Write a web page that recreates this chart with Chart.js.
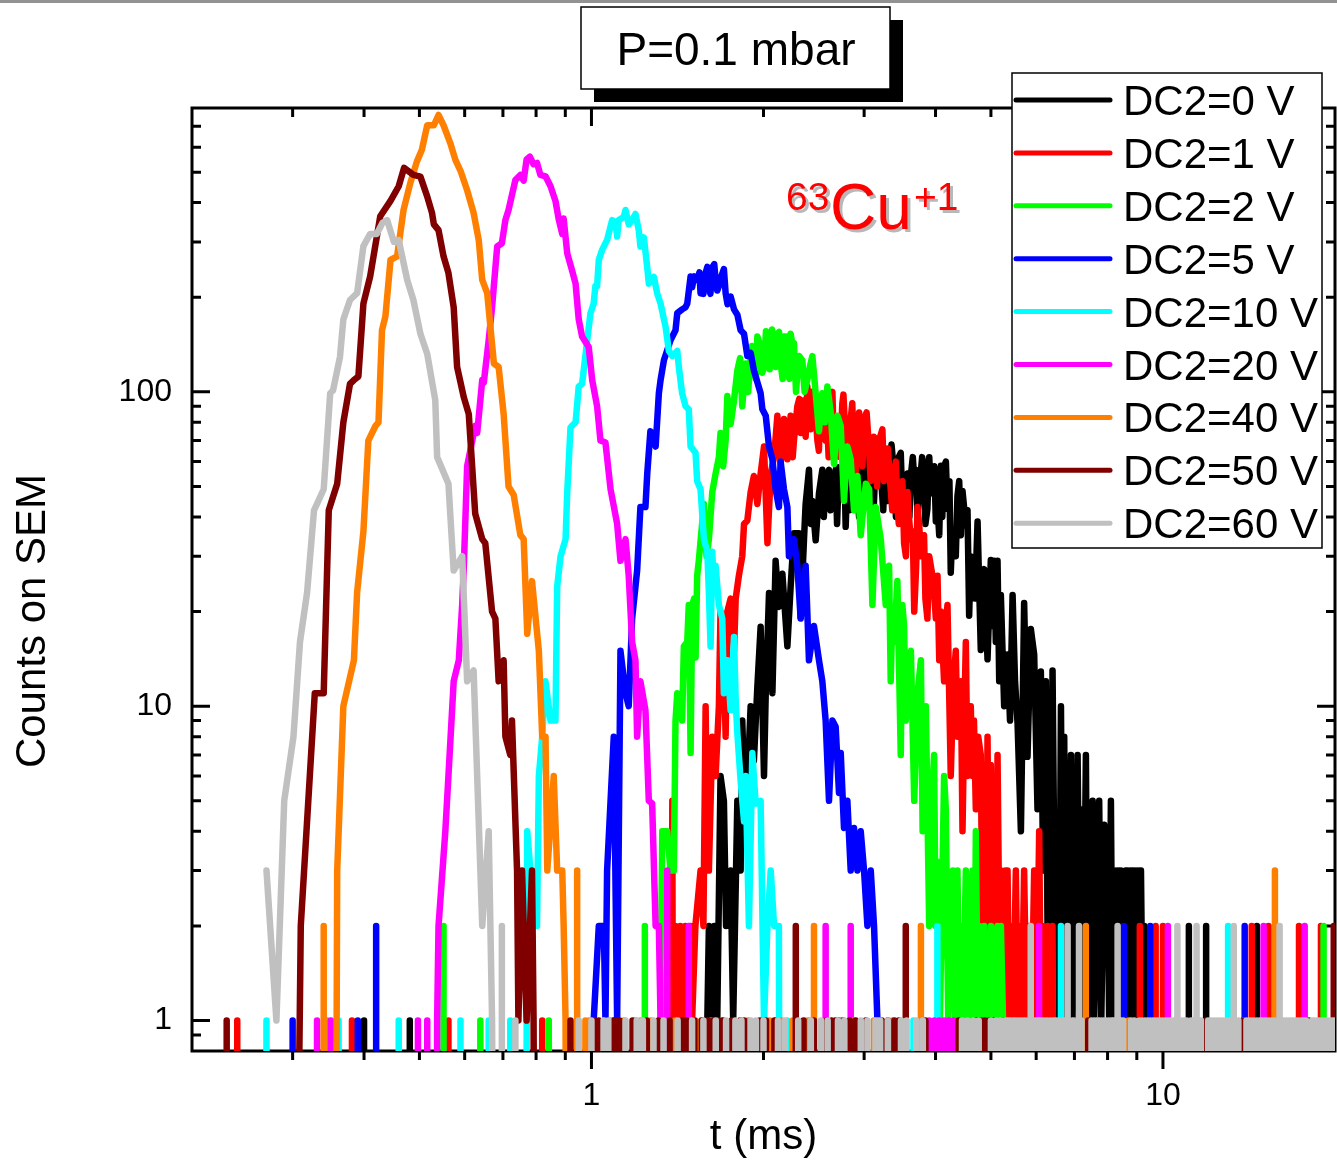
<!DOCTYPE html>
<html lang="en">
<head>
<meta charset="UTF-8">
<title>63Cu+ arrival times</title>
<script src="https://cdn.jsdelivr.net/npm/chart.js@4"></script>
<style>
  body { margin: 0; background: #fff; }
  #wrap { width: 1337px; height: 1163px; }
</style>
</head>
<body>
<div id="wrap"><canvas id="myChart" width="1337" height="1163"></canvas></div>
<script>
// counts vs time (ms); [t, counts]
const dc0 = [[1.59,0],[1.595,1],[1.605,2],[1.62,1],[1.64,2],[1.66,1],[1.682,6],[1.705,5],[1.72,2],[1.752,3],[1.77,1],[1.80,5],[1.824,3],[1.836,9],[1.86,4],[1.899,10],[1.924,6.7],[1.951,11.5],[1.977,17.9],[2.004,6],[2.018,11],[2.045,22.9],[2.073,11],[2.10,29],[2.128,20.7],[2.158,26.4],[2.202,15.5],[2.231,24],[2.261,35.5],[2.307,35.5],[2.323,19.2],[2.354,33.7],[2.37,44],[2.402,56.5],[2.42,38],[2.435,45],[2.468,33.7],[2.501,47.6],[2.535,56.5],[2.55,40],[2.569,51],[2.604,56.5],[2.62,42],[2.64,45],[2.675,56.5],[2.69,38],[2.711,57.6],[2.748,48.8],[2.77,60],[2.785,37.2],[2.804,55],[2.83,42],[2.861,47.6],[2.88,60],[2.90,55],[2.94,40],[2.96,44],[2.979,65.4],[3.02,47.6],[3.04,66],[3.061,57.6],[3.08,42],[3.102,52.5],[3.12,44],[3.144,62],[3.18,66],[3.208,55],[3.24,42],[3.273,65.4],[3.3,45],[3.317,55],[3.35,68],[3.384,55],[3.41,40],[3.43,60.8],[3.477,64],[3.5,44],[3.524,46.6],[3.573,55],[3.6,40],[3.622,54.5],[3.65,62],[3.671,52.5],[3.695,56.5],[3.72,40],[3.745,48.4],[3.79,62],[3.819,57.6],[3.84,38],[3.871,42.4],[3.9,62],[3.924,47.6],[3.951,55],[3.98,58],[4.005,38.7],[4.032,43],[4.06,35],[4.087,58.2],[4.11,40],[4.14,58],[4.17,60],[4.197,42.4],[4.23,52],[4.253,26.6],[4.28,36],[4.311,33],[4.34,30],[4.369,46.6],[4.4,52],[4.43,35],[4.459,48.4],[4.519,37.6],[4.55,42],[4.58,19.4],[4.61,30],[4.643,28.4],[4.69,22],[4.738,38.7],[4.80,15.1],[4.83,25],[4.866,27.3],[4.932,14.1],[4.998,29.2],[5.03,18],[5.065,29],[5.1,16],[5.135,29],[5.17,12],[5.204,22.6],[5.274,10],[5.346,14.6],[5.4,9],[5.456,22.6],[5.51,12],[5.567,8.8],[5.642,4],[5.716,21.3],[5.794,6.9],[5.872,17.6],[5.952,14.6],[6.032,4.7],[6.114,12.9],[6.17,3],[6.239,12],[6.28,2],[6.323,4],[6.36,1],[6.409,13],[6.47,2],[6.541,3],[6.58,1],[6.63,10],[6.67,2],[6.718,8],[6.76,1],[6.81,5.5],[6.85,2],[6.902,7],[6.95,1],[6.995,4.7],[7.04,2],[7.09,7],[7.16,1],[7.236,4.7],[7.28,2],[7.331,7],[7.38,1],[7.43,2],[7.48,3],[7.532,5],[7.58,1],[7.633,2],[7.68,3],[7.734,5],[7.8,1],[7.892,4.2],[7.95,2],[8.0,3],[8.05,1],[8.108,5],[8.16,1],[8.217,3],[8.28,1],[8.33,3],[8.39,2],[8.44,3],[8.5,1],[8.55,2],[8.6,3],[8.671,3],[8.73,1],[8.79,3],[8.85,2],[8.905,3],[8.96,1],[9.03,3],[9.09,2],[9.152,3],[9.21,1],[9.276,2],[9.338,1],[9.36,0]];
const dc1 = [[1.375,0],[1.385,5],[1.395,0],[1.403,2],[1.41,0],[1.43,2],[1.44,0],[1.46,2],[1.47,0],[1.49,2],[1.5,1],[1.52,2],[1.552,3],[1.57,2],[1.584,10],[1.595,3],[1.605,3],[1.627,8],[1.649,6],[1.671,10],[1.682,20],[1.705,14],[1.717,8],[1.729,20],[1.752,22],[1.776,15],[1.788,22],[1.811,26],[1.836,30],[1.849,38],[1.874,39],[1.899,48],[1.924,54],[1.951,44],[1.977,55],[2.004,67],[2.032,33],[2.059,55],[2.087,62],[2.115,84],[2.143,59],[2.172,82],[2.202,61],[2.231,84],[2.25,62],[2.261,70],[2.292,90],[2.31,95],[2.323,74],[2.354,94],[2.37,72],[2.386,104],[2.417,76],[2.43,100],[2.451,94],[2.47,82],[2.485,70],[2.5,65],[2.518,94],[2.55,92],[2.569,70],[2.587,78],[2.6,62],[2.622,94],[2.64,100],[2.657,64],[2.67,70],[2.694,82],[2.72,62],[2.748,92],[2.76,98],[2.785,70],[2.81,60],[2.842,82],[2.86,92],[2.88,62],[2.9,56],[2.92,78],[2.94,86],[2.959,61],[2.98,58],[2.999,82],[3.03,86],[3.061,65],[3.08,52],[3.102,55],[3.12,72],[3.144,70],[3.16,50],[3.186,64],[3.2,72],[3.229,76],[3.25,52],[3.273,55],[3.3,66],[3.339,49],[3.36,42],[3.384,55],[3.41,60],[3.43,43],[3.45,38],[3.477,45],[3.5,52],[3.524,33],[3.55,30],[3.573,48],[3.597,39],[3.622,34],[3.65,36],[3.671,20],[3.7,28],[3.72,43],[3.745,38],[3.771,30],[3.819,35],[3.84,22],[3.871,19],[3.9,30],[3.924,28],[3.951,26],[3.977,23],[4.005,19],[4.032,26],[4.06,14],[4.087,20],[4.14,12],[4.17,18],[4.197,21],[4.23,10],[4.253,6],[4.3,12],[4.34,15],[4.37,8],[4.399,9],[4.43,12],[4.459,4],[4.49,9],[4.519,16],[4.55,6],[4.58,8],[4.61,10],[4.643,6],[4.67,9],[4.705,4.7],[4.75,8],[4.8,7],[4.83,2],[4.866,3],[4.9,1],[4.932,8],[4.96,2],[4.998,6.5],[5.03,2],[5.065,3.4],[5.1,1],[5.135,7],[5.17,2],[5.204,3],[5.25,1],[5.3,3],[5.346,3],[5.38,1],[5.419,2],[5.47,1],[5.528,3],[5.57,1],[5.6,2],[5.66,1],[5.716,3],[5.77,1],[5.833,2],[5.89,1],[5.952,3],[6.01,1],[6.073,4],[6.115,1],[6.156,2],[6.22,1],[6.281,2],[6.34,1],[6.409,2],[6.45,0]];
const dc2 = [[1.32,0],[1.321,1],[1.33,4],[1.357,4],[1.375,3],[1.394,3],[1.403,9],[1.413,11],[1.441,9],[1.451,15.5],[1.471,16],[1.48,21],[1.491,7.1],[1.501,21],[1.512,22],[1.521,14.3],[1.531,26],[1.541,29],[1.573,44],[1.59,30],[1.605,34],[1.627,48],[1.649,55],[1.671,62],[1.682,74],[1.7,58],[1.717,70],[1.729,97],[1.752,79],[1.776,94],[1.8,117],[1.82,128],[1.836,90],[1.861,123],[1.88,100],[1.899,130],[1.91,140],[1.924,117],[1.94,110],[1.951,150],[1.977,139],[1.99,115],[2.004,120],[2.02,156],[2.032,143],[2.05,118],[2.059,150],[2.07,158],[2.087,133],[2.1,120],[2.115,153],[2.13,155],[2.143,123],[2.16,110],[2.172,150],[2.19,150],[2.202,117],[2.22,110],[2.231,153],[2.25,140],[2.261,143],[2.28,100],[2.292,114],[2.31,130],[2.339,126],[2.36,100],[2.386,109],[2.41,120],[2.435,130],[2.468,99],[2.501,75],[2.535,99],[2.56,80],[2.587,104],[2.622,86],[2.657,59],[2.694,84],[2.73,78],[2.766,45],[2.804,67],[2.842,61],[2.88,42],[2.92,54],[2.959,35],[3.02,51],[3.061,49],[3.102,21],[3.144,43],[3.208,34],[3.273,21],[3.317,28],[3.339,12],[3.362,20],[3.384,16],[3.43,25],[3.477,7],[3.5,21],[3.524,18],[3.548,9],[3.573,14],[3.622,15],[3.671,5],[3.72,11],[3.771,14],[3.797,4],[3.847,10],[3.899,2],[3.94,5],[3.977,7],[4.0,2],[4.032,3.2],[4.07,1],[4.114,3],[4.14,6],[4.169,4.7],[4.21,1],[4.253,2],[4.29,3],[4.33,1],[4.369,3],[4.4,1],[4.428,2],[4.47,1],[4.519,3],[4.56,1],[4.6,2],[4.643,3],[4.68,1],[4.705,4],[4.74,1],[4.769,2],[4.81,1],[4.866,2],[4.91,1],[4.964,1],[5.0,2],[5.05,1],[5.135,2],[5.17,1],[5.204,2],[5.25,1],[5.3,0]];
const dc5 = [[1.0,0],[1.009,1],[1.03,2],[1.051,2],[1.058,1],[1.065,3],[1.094,8],[1.109,1],[1.124,15],[1.147,11],[1.162,10],[1.178,19],[1.202,27],[1.218,43],[1.243,43],[1.252,55],[1.268,75],[1.295,67],[1.312,99],[1.321,109],[1.339,126],[1.375,146],[1.403,157],[1.413,178],[1.441,183],[1.461,186],[1.471,191],[1.491,233],[1.5,215],[1.512,233],[1.531,227],[1.545,240],[1.552,206],[1.57,205],[1.584,239],[1.595,250],[1.605,217],[1.615,205],[1.627,249],[1.64,255],[1.649,227],[1.66,210],[1.671,217],[1.69,235],[1.705,246],[1.717,206],[1.73,190],[1.752,201],[1.776,183],[1.8,176],[1.824,157],[1.849,153],[1.874,130],[1.899,133],[1.924,117],[1.977,99],[1.991,88],[2.018,84],[2.045,67],[2.073,61],[2.1,49],[2.128,43],[2.143,60],[2.172,49],[2.202,43],[2.216,30],[2.261,34],[2.292,28],[2.323,19],[2.37,28],[2.386,20],[2.402,14],[2.451,18],[2.501,14],[2.535,12],[2.569,9],[2.604,5],[2.64,9],[2.675,8.6],[2.711,5.3],[2.73,7.1],[2.766,4.1],[2.804,5],[2.842,3],[2.88,4.1],[2.92,3],[2.959,4],[2.999,3],[3.04,2],[3.081,3],[3.122,2],[3.165,1],[3.18,0]];
const dc10 = [[0.765,0],[0.772,4],[0.782,3],[0.803,2],[0.809,6],[0.82,8],[0.831,12],[0.848,9],[0.865,9],[0.871,24],[0.883,30],[0.901,34],[0.907,48],[0.919,77],[0.938,80],[0.95,104],[0.963,106],[0.983,146],[0.996,178],[1.009,191],[1.016,217],[1.023,217],[1.03,263],[1.044,283],[1.065,304],[1.087,352],[1.102,346],[1.109,312],[1.116,352],[1.139,360],[1.147,379],[1.162,341],[1.178,352],[1.194,368],[1.21,327],[1.218,290],[1.235,310],[1.252,249],[1.26,221],[1.286,232],[1.303,206],[1.321,191],[1.348,161],[1.366,135],[1.385,130],[1.413,135],[1.422,120],[1.441,99],[1.461,90],[1.48,88],[1.491,67],[1.521,64],[1.531,52],[1.552,49],[1.573,34],[1.595,31],[1.605,23],[1.616,15.5],[1.627,31],[1.638,23],[1.649,28],[1.671,21],[1.694,19],[1.705,11],[1.729,14],[1.752,9.7],[1.776,16.6],[1.788,10.4],[1.8,8.2],[1.824,5.8],[1.849,4.3],[1.861,6],[1.886,2],[1.912,7.1],[1.938,4.9],[1.977,5],[2.004,1],[2.032,2],[2.059,3],[2.087,2],[2.128,2],[2.14,0]];
const dc20 = [[0.535,0],[0.537,1],[0.54,2],[0.555,4],[0.562,6],[0.574,12],[0.586,14],[0.594,21],[0.598,28],[0.606,58],[0.626,78],[0.631,74],[0.644,109],[0.648,107],[0.661,146],[0.67,186],[0.684,290],[0.697,297],[0.707,352],[0.716,379],[0.736,472],[0.751,490],[0.761,470],[0.77,549],[0.78,560],[0.792,530],[0.803,535],[0.814,490],[0.831,485],[0.848,451],[0.865,405],[0.877,352],[0.889,318],[0.894,356],[0.907,276],[0.925,243],[0.938,221],[0.95,170],[0.963,150],[0.989,139],[1.003,109],[1.023,90],[1.037,70],[1.058,69],[1.08,49],[1.109,38],[1.124,29],[1.147,34],[1.162,26],[1.178,16],[1.194,14],[1.202,8],[1.218,12],[1.243,9.7],[1.26,5],[1.277,4.9],[1.295,2],[1.312,2],[1.321,1],[1.33,0]];
const dc40 = [[0.355,0],[0.359,3],[0.368,10],[0.384,14],[0.389,23],[0.399,36],[0.407,70],[0.419,78],[0.424,80],[0.43,157],[0.436,174],[0.445,263],[0.457,270],[0.469,379],[0.482,462],[0.495,541],[0.505,589],[0.516,705],[0.53,705],[0.54,760],[0.551,705],[0.566,620],[0.578,547],[0.59,505],[0.606,438],[0.622,371],[0.635,304],[0.644,227],[0.657,206],[0.675,123],[0.688,120],[0.702,85],[0.716,50],[0.731,47],[0.751,35],[0.761,34],[0.772,17],[0.787,25],[0.809,15],[0.82,8],[0.831,8],[0.837,3],[0.859,6],[0.871,3],[0.889,3],[0.894,2],[0.901,1],[0.905,0]];
const dc50 = [[0.3,0],[0.31,2],[0.328,11],[0.34,11],[0.347,42],[0.359,51],[0.368,80],[0.378,106],[0.384,109],[0.391,112],[0.399,191],[0.41,233],[0.427,362],[0.445,405],[0.46,451],[0.47,516],[0.488,490],[0.502,484],[0.516,418],[0.526,371],[0.53,341],[0.54,327],[0.551,270],[0.562,239],[0.574,186],[0.582,120],[0.598,96],[0.61,85],[0.626,41],[0.644,34],[0.652,33],[0.67,20],[0.679,19],[0.688,12],[0.702,14],[0.707,8],[0.721,7],[0.726,9],[0.741,3],[0.745,1],[0.756,3],[0.77,1],[0.787,3],[0.792,1],[0.8,0]];
const dc60 = [[0.27,3],[0.281,1],[0.29,5],[0.301,8],[0.309,16],[0.318,23],[0.327,42],[0.34,49],[0.349,99],[0.353,101],[0.363,129],[0.368,170],[0.378,196],[0.389,206],[0.399,291],[0.41,318],[0.421,318],[0.431,345],[0.439,352],[0.451,300],[0.46,304],[0.476,227],[0.488,196],[0.502,153],[0.516,132],[0.533,94],[0.537,62],[0.562,51],[0.574,27],[0.594,30],[0.606,12],[0.622,13],[0.644,2],[0.661,4],[0.67,1],[0.68,0]];

// isolated counts in otherwise empty bins; [t, counts]
const dc0Spikes = [[0.4,1],[0.481,1],[1.094,1],[11.1,2],[11.9,2],[14.6,2]];
const dc1Spikes = [[0.24,1],[0.381,1],[0.562,1],[0.82,1],[7.0,1],[7.7,1],[9.11,2],[9.71,2],[10.0,2],[14.3,2],[15.3,2],[17.3,2],[18.9,2]];
const dc2Spikes = [[0.345,1],[0.551,2],[0.639,1],[0.842,1],[1.194,1],[1.24,2],[19.1,2]];
const dc5Spikes = [[0.3,1],[0.39,1],[0.42,2],[8.54,2],[9.5,2],[13.9,2]];
const dc10Spikes = [[0.27,1],[0.361,1],[0.46,1],[0.59,1],[0.661,1],[0.721,1],[2.2,1],[2.37,1],[3.17,1],[3.66,1],[4.03,2],[6.63,2],[13.0,2]];
const dc20Spikes = [[0.331,1],[0.35,1],[0.497,1],[0.516,1],[1.357,3],[1.48,2],[2.569,2],[2.842,2],[3.9,1],[3.98,1],[4.06,1],[4.14,1],[4.22,1],[4.3,1],[6.07,2],[10.2,2],[15.0,2],[17.7,2]];
const dc40Spikes = [[0.34,2],[0.944,3],[0.976,1],[0.99,1],[1.051,1],[1.08,1],[1.14,1],[1.218,1],[1.27,1],[1.326,1],[1.4,1],[1.484,1],[1.52,1],[1.557,1],[1.62,1],[1.7,1],[1.88,1],[2.05,1],[2.1,1],[2.15,1],[2.25,1],[2.4,1],[2.451,2],[2.88,1],[3.12,1],[3.36,1],[3.771,2],[7.05,1],[7.33,2],[8.7,1],[13.8,1],[15.7,3]];
const dc50Spikes = [[0.23,1],[0.919,1],[1.009,1],[1.03,1],[1.097,1],[1.12,1],[1.18,1],[1.25,1],[1.31,1],[1.37,1],[1.443,1],[1.47,1],[1.514,1],[1.56,1],[1.6,1],[1.635,1],[1.665,1],[1.695,1],[1.76,1],[1.82,1],[1.85,1],[1.97,1],[2.02,1],[2.09,1],[2.278,2],[2.35,1],[2.45,1],[2.58,1],[2.63,1],[2.67,1],[2.71,1],[2.75,1],[2.83,1],[2.9,1],[3.02,1],[3.22,1],[3.3,1],[3.39,1],[3.45,1],[3.548,2],[3.84,1],[4.39,1],[4.72,1],[4.8,1],[4.88,1],[4.97,1],[5.06,1],[5.25,1],[7.4,1],[7.62,1],[9.0,1],[11.88,1],[13.8,1],[18.0,1],[19.9,2]];
const dc60Spikes = [[0.697,2],[0.736,1],[0.95,1],[1.0,1],[1.05,1],[1.07,1],[1.147,1],[1.2,1],[1.23,1],[1.284,1],[1.337,1],[1.415,1],[1.5,1],[1.57,1],[1.65,1],[1.72,1],[1.786,1],[1.83,1],[1.9,1],[1.94,1],[2.0,1],[2.12,1],[2.18,1],[2.3,1],[2.42,1],[2.52,1],[2.59,1],[2.7,1],[2.77,1],[2.96,1],[3.04,1],[3.14,1],[3.2,1],[3.3,1],[3.48,1],[3.56,1],[3.7,1],[3.8,1],[4.45,1],[4.55,1],[4.66,1],[4.76,1],[5.0,1],[5.1,1],[5.2,1],[5.28,1],[5.35,1],[5.42,1],[5.47,1],[5.54,1],[5.6,1],[5.66,1],[5.72,1],[5.8,1],[5.87,2],[5.95,1],[6.03,1],[6.1,1],[6.16,1],[6.22,1],[6.28,1],[6.35,1],[6.42,1],[6.5,1],[6.56,1],[6.6,1],[6.7,1],[6.81,2],[6.88,1],[6.95,1],[7.13,2],[7.2,1],[7.5,1],[7.57,1],[7.65,1],[7.72,1],[7.8,1],[7.87,1],[7.95,1],[8.03,1],[8.1,1],[8.2,1],[8.27,1],[8.33,2],[8.45,1],[8.52,1],[8.8,1],[8.9,1],[9.1,1],[9.2,1],[9.3,1],[9.4,1],[9.5,1],[9.6,1],[9.7,1],[9.8,1],[9.9,1],[10.0,1],[10.1,1],[10.2,1],[10.3,1],[10.45,1],[10.6,2],[10.7,1],[10.8,1],[10.9,1],[11.0,1],[11.2,1],[11.3,1],[11.45,2],[11.55,1],[11.65,1],[12.0,1],[12.12,1],[12.25,1],[12.38,1],[12.5,1],[12.62,1],[12.75,1],[12.88,1],[13.0,1],[13.15,1],[13.3,2],[13.45,1],[13.55,1],[14.0,1],[14.15,1],[14.3,1],[14.45,1],[14.6,1],[14.75,1],[14.9,1],[15.05,1],[15.2,1],[15.35,1],[15.5,1],[15.65,1],[15.8,1],[16.0,2],[16.15,1],[16.3,1],[16.45,1],[16.6,1],[16.75,1],[16.9,1],[17.05,1],[17.2,1],[17.35,1],[17.5,1],[17.65,1],[17.8,1],[18.25,1],[18.4,1],[18.6,1],[18.75,1],[18.95,1],[19.1,1],[19.3,1],[19.45,1],[19.65,1],[19.8,1],[19.95,1]];

const labels = ['DC2=0 V', 'DC2=1 V', 'DC2=2 V', 'DC2=5 V', 'DC2=10 V', 'DC2=20 V', 'DC2=40 V', 'DC2=50 V', 'DC2=60 V'];
const colors = ['#000000', '#ff0000', '#00ff00', '#0000ff', '#00ffff', '#ff00ff', '#ff8000', '#800000', '#c0c0c0'];
const curves = [dc0, dc1, dc2, dc5, dc10, dc20, dc40, dc50, dc60];
const spikes = [dc0Spikes, dc1Spikes, dc2Spikes, dc5Spikes, dc10Spikes, dc20Spikes, dc40Spikes, dc50Spikes, dc60Spikes];

const xMajor = [1, 10];
const xMinor = [0.3, 0.4, 0.5, 0.6, 0.7, 0.8, 0.9, 2, 3, 4, 5, 6, 7, 8, 9];
const yMajor = [1, 10, 100];
const yMinor = [0.9, 2, 3, 4, 5, 6, 7, 8, 9, 20, 30, 40, 50, 60, 70, 80, 90, 200, 300, 400, 500, 600, 700];

const FONT = '"Liberation Sans", Arial, sans-serif';
const FLOOR = 0.01; // empty bins fall below the axis, as in the original plot

function series(curve, spk) {
  const pts = curve.map(([t, c]) => ({ x: t, y: c }));
  spk.forEach(([t, c]) => pts.push({ x: t, y: 0 }, { x: t, y: c }, { x: t, y: 0 }));
  pts.sort((a, b) => a.x - b.x);
  return pts.map(p => ({ x: p.x, y: p.y > 0 ? p.y : FLOOR }));
}

const frame = {
  id: 'frame',
  beforeDatasetsDraw(chart) {
    const { ctx, chartArea: a, scales: { x, y } } = chart;
    ctx.save();
    ctx.strokeStyle = '#000';
    ctx.lineWidth = 3;
    ctx.beginPath();
    xMajor.concat(xMinor).forEach(v => {
      const px = x.getPixelForValue(v);
      const len = xMajor.includes(v) ? 18 : 9;
      ctx.moveTo(px, a.bottom); ctx.lineTo(px, a.bottom + len);
      ctx.moveTo(px, a.top); ctx.lineTo(px, a.top + len);
    });
    yMajor.concat(yMinor).forEach(v => {
      const py = y.getPixelForValue(v);
      const len = yMajor.includes(v) ? 18 : 9;
      ctx.moveTo(a.left, py); ctx.lineTo(a.left + len, py);
      ctx.moveTo(a.right, py); ctx.lineTo(a.right - len, py);
    });
    ctx.stroke();
    ctx.strokeRect(a.left, a.top, a.right - a.left, a.bottom - a.top);
    ctx.restore();
  },
  afterDraw(chart) {
    const ctx = chart.ctx;
    ctx.save();
    // strip along the top edge
    ctx.fillStyle = '#929292';
    ctx.fillRect(0, 0, 1337, 3);

    // y axis title
    ctx.fillStyle = '#000';
    ctx.font = '42px ' + FONT;
    ctx.textAlign = 'center';
    ctx.textBaseline = 'middle';
    ctx.translate(33, 621);
    ctx.rotate(-Math.PI / 2);
    ctx.fillText('Counts on SEM', 0, 0);
    ctx.setTransform(1, 0, 0, 1, 0, 0);

    // pressure box with drop shadow
    ctx.fillStyle = '#000';
    ctx.fillRect(594, 20, 309, 82);
    ctx.fillStyle = '#fff';
    ctx.fillRect(581, 7, 309, 82);
    ctx.lineWidth = 1.5;
    ctx.strokeStyle = '#000';
    ctx.strokeRect(581, 7, 309, 82);
    ctx.fillStyle = '#000';
    ctx.font = '46px ' + FONT;
    ctx.textAlign = 'center';
    ctx.textBaseline = 'alphabetic';
    ctx.fillText('P=0.1 mbar', 736, 65);

    // ion label
    ctx.textAlign = 'left';
    const red = (txt, px, py, size) => {
      ctx.font = size + 'px ' + FONT;
      ctx.fillStyle = '#b8b8b8';
      ctx.fillText(txt, px + 3, py + 3);
      ctx.fillStyle = '#ff0000';
      ctx.fillText(txt, px, py);
    };
    red('63', 786, 210, 39);
    red('Cu', 830, 229, 64);
    red('+1', 914, 210, 39);

    // legend
    ctx.fillStyle = '#fff';
    ctx.fillRect(1012, 73, 310, 475);
    ctx.strokeStyle = '#000';
    ctx.lineWidth = 1.5;
    ctx.strokeRect(1012, 73, 310, 475);
    ctx.font = '42px ' + FONT;
    ctx.lineCap = 'round';
    labels.forEach((lab, i) => {
      const cy = 100 + i * 52.9;
      ctx.strokeStyle = colors[i];
      ctx.lineWidth = 5;
      ctx.beginPath();
      ctx.moveTo(1016, cy);
      ctx.lineTo(1110, cy);
      ctx.stroke();
      ctx.fillStyle = '#000';
      ctx.fillText(lab, 1123, cy + 15);
    });
    ctx.restore();
  }
};

new Chart(document.getElementById('myChart'), {
  type: 'line',
  data: {
    datasets: labels.map((lab, i) => ({
      label: lab,
      data: series(curves[i], spikes[i]),
      borderColor: colors[i],
      borderWidth: 6.5,
      pointRadius: 0,
      tension: 0,
      fill: false,
      borderJoinStyle: 'round',
      borderCapStyle: 'round',
      clip: 0,
      order: 9 - i
    }))
  },
  options: {
    responsive: false,
    animation: false,
    devicePixelRatio: 1,
    layout: { padding: { top: 108, right: 2, left: 0, bottom: 0 } },
    plugins: { legend: { display: false }, tooltip: { enabled: false } },
    scales: {
      x: {
        type: 'logarithmic',
        min: 0.2,
        max: 20,
        grid: { display: false, drawTicks: false },
        border: { display: false },
        afterBuildTicks: s => { s.ticks = xMajor.map(v => ({ value: v })); },
        afterFit: s => { s.height = 112; },
        ticks: { callback: v => String(v), color: '#000', padding: 26, maxRotation: 0, font: { size: 32, family: FONT } },
        title: { display: true, text: 't (ms)', color: '#000', padding: { top: 0, bottom: 0 }, font: { size: 42, family: FONT } }
      },
      y: {
        type: 'logarithmic',
        min: 0.8,
        max: 800,
        grid: { display: false, drawTicks: false },
        border: { display: false },
        afterBuildTicks: s => { s.ticks = yMajor.map(v => ({ value: v })); },
        afterFit: s => { s.width = 192; },
        ticks: { callback: v => String(v), color: '#000', padding: 20, font: { size: 32, family: FONT } }
      }
    }
  },
  plugins: [frame]
});
</script>
</body>
</html>
